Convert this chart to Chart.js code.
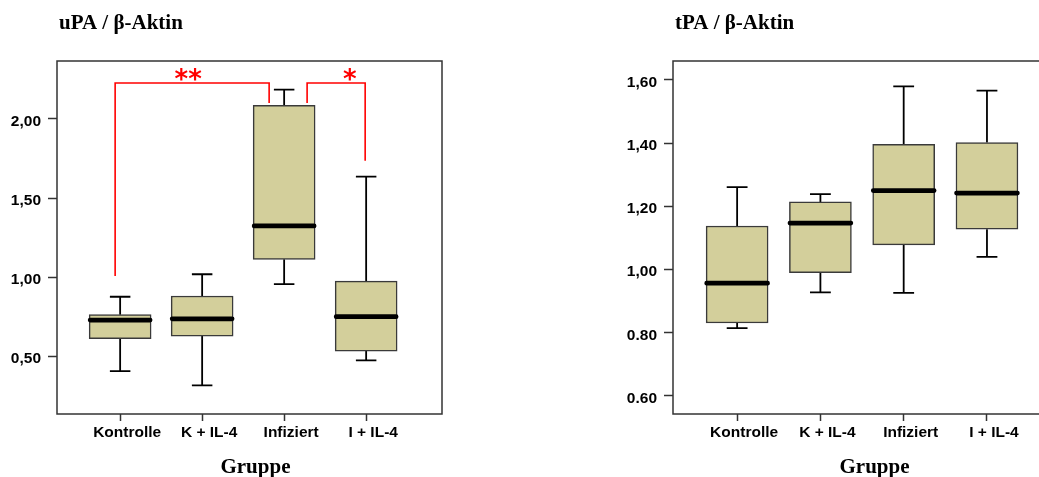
<!DOCTYPE html>
<html><head><meta charset="utf-8">
<script src="https://cdn.jsdelivr.net/npm/chart.js@4/dist/chart.umd.min.js"></script>
<style>
html,body{margin:0;padding:0;background:#fff;overflow:hidden;width:1039px;height:477px;position:relative;}
#w1{position:absolute;left:0;top:0;width:520px;height:477px;}
#w2{position:absolute;left:520px;top:0;width:570px;height:477px;}
</style></head><body>
<div id="w1"><canvas id="c1"></canvas></div>
<div id="w2"><canvas id="c2"></canvas></div>
<script>
// ---------- data ----------
const categories = ['Kontrolle', 'K + IL-4', 'Infiziert', 'I + IL-4'];
const categoryPositions = [1, 2, 3, 4];
const xAxisTitle = 'Gruppe';

// uPA / β-Aktin
const upaTitle = 'uPA / β-Aktin';
const upaMin    = [0.409, 0.319, 0.958, 0.476];
const upaQ1     = [0.613, 0.630, 1.114, 0.535];
const upaMedian = [0.731, 0.739, 1.325, 0.752];
const upaQ3     = [0.765, 0.883, 2.086, 0.977];
const upaMax    = [0.878, 1.020, 2.185, 1.636];
const upaTickValues = [0.5, 1.0, 1.5, 2.0];
const upaTickLabels = ['0,50', '1,00', '1,50', '2,00'];

// significance brackets (uPA)
const sigLeftX   = [0.939, 3.280];
const sigRightX  = [2.817, 3.988];
const sigTopY    = [2.227, 2.227];
const sigLeftY   = [1.009, 2.101];
const sigRightY  = [2.101, 1.737];
const sigText    = ['**', '*'];
const sigTextX   = [1.83, 3.80];

// tPA / β-Aktin
const tpaTitle = 'tPA / β-Aktin';
const tpaMin    = [0.815, 0.928, 0.926, 1.040];
const tpaQ1     = [0.831, 0.990, 1.078, 1.128];
const tpaMedian = [0.957, 1.147, 1.250, 1.242];
const tpaQ3     = [1.138, 1.214, 1.396, 1.402];
const tpaMax    = [1.261, 1.239, 1.580, 1.566];
const tpaTickValues = [0.6, 0.8, 1.0, 1.2, 1.4, 1.6];
const tpaTickLabels = ['0.60', '0.80', '1,00', '1,20', '1,40', '1,60'];

// ---------- helpers ----------
const CAP_HALF = 0.125;   // whisker cap half-width (x units)
const MED_HALF = 0.365;   // median line half-width (x units)

function segments(list) {
  const out = [];
  list.forEach((s, i) => {
    if (i > 0) out.push({x: s[0][0], y: null});
    s.forEach(p => out.push({x: p[0], y: p[1]}));
  });
  return out;
}

function boxDatasets(mn, q1, med, q3, mx) {
  const xs = categoryPositions;
  return [
    {
      type: 'bar', order: 5, grouped: false,
      data: xs.map((x, i) => ({x: x, y: [q1[i], q3[i]]})),
      backgroundColor: '#d3cf9b', borderColor: '#3a3a3a', borderWidth: 1.5,
      borderSkipped: false, barThickness: 62
    },
    {
      type: 'line', order: 6,
      data: segments(xs.flatMap((x, i) => [[[x, mn[i]], [x, q1[i]]], [[x, q3[i]], [x, mx[i]]]])),
      borderColor: '#000', borderWidth: 1.8, pointRadius: 0, fill: false, spanGaps: false, tension: 0
    },
    {
      type: 'line', order: 6,
      data: segments(xs.flatMap((x, i) => [[[x - CAP_HALF, mn[i]], [x + CAP_HALF, mn[i]]], [[x - CAP_HALF, mx[i]], [x + CAP_HALF, mx[i]]]])),
      borderColor: '#000', borderWidth: 1.8, pointRadius: 0, fill: false, spanGaps: false, tension: 0
    },
    {
      type: 'line', order: 1,
      data: segments(xs.map((x, i) => [[x - MED_HALF, med[i]], [x + MED_HALF, med[i]]])),
      borderColor: '#000', borderWidth: 4.8, borderCapStyle: 'round', pointRadius: 0, fill: false, spanGaps: false, tension: 0
    }
  ];
}

const deco = {
  id: 'deco',
  afterDraw(chart, args, opts) {
    const {ctx, chartArea: a} = chart;
    const xs = chart.scales.x, ys = chart.scales.y;
    ctx.save();
    ctx.strokeStyle = '#333'; ctx.lineWidth = 1.5;
    ctx.strokeRect(a.left, a.top, a.right - a.left, a.bottom - a.top);
    ctx.fillStyle = '#000';
    ctx.font = 'bold 21px "Liberation Serif", "Times New Roman", serif';
    ctx.textAlign = 'left'; ctx.textBaseline = 'alphabetic';
    ctx.fillText(opts.title, a.left + 2, 29);
    ctx.textAlign = 'center';
    ctx.fillText(xAxisTitle, xs.getPixelForValue(2.65), 472.5);
    if (opts.sig) {
      ctx.fillStyle = '#ff0000';
      ctx.font = 'bold 26px "DejaVu Sans", sans-serif';
      ctx.textAlign = 'center'; ctx.textBaseline = 'alphabetic';
      sigText.forEach((t, i) => {
        ctx.fillText(t, xs.getPixelForValue(sigTextX[i]), ys.getPixelForValue(sigTopY[i]) + 5);
      });
    }
    ctx.restore();
  }
};

function makeChart(id, cfg) {
  const datasets = boxDatasets(cfg.mn, cfg.q1, cfg.med, cfg.q3, cfg.mx);
  if (cfg.sig) {
    datasets.push({
      type: 'line', order: 2,
      data: segments(sigLeftX.map((lx, i) => [[lx, sigLeftY[i]], [lx, sigTopY[i]], [sigRightX[i], sigTopY[i]], [sigRightX[i], sigRightY[i]]])),
      borderColor: '#ff0000', borderWidth: 1.6, pointRadius: 0, fill: false, spanGaps: false, tension: 0
    });
  }
  const tickFont = {family: '"Liberation Sans", Arial, sans-serif', size: 15.5, weight: 'bold'};
  return new Chart(document.getElementById(id), {
    type: 'bar',
    data: {datasets},
    options: {
      responsive: true, maintainAspectRatio: false, animation: false,
      layout: {padding: {top: cfg.top, right: cfg.right, left: 0, bottom: 0}},
      plugins: {legend: {display: false}, tooltip: {enabled: false}, deco: {title: cfg.title, sig: cfg.sig}},
      scales: {
        x: {
          type: 'linear', min: 0.23, max: 4.925, offset: false,
          afterFit(s) { s.height = 63; },
          afterBuildTicks(s) { s.ticks = categoryPositions.map(v => ({value: v})); },
          ticks: {callback: (v, i) => categories[i], font: tickFont, color: '#000', padding: 2, labelOffset: 7, autoSkip: false, maxRotation: 0},
          grid: {display: true, offset: false, drawOnChartArea: false, drawTicks: true, tickLength: 7, tickColor: '#333', tickWidth: 1.5},
          border: {display: false}
        },
        y: {
          type: 'linear', min: cfg.ymin, max: cfg.ymax, beginAtZero: false,
          afterFit(s) { s.width = cfg.yWidth; },
          afterBuildTicks(s) { s.ticks = cfg.tickValues.map(v => ({value: v})); },
          ticks: {callback: (v, i) => cfg.tickLabels[i], font: tickFont, color: '#000', padding: 7, labelOffset: 2.5},
          grid: {display: true, drawOnChartArea: false, drawTicks: true, tickLength: 9, tickColor: '#333', tickWidth: 1.5},
          border: {display: false}
        }
      }
    },
    plugins: [deco]
  });
}

makeChart('c1', {
  title: upaTitle, mn: upaMin, q1: upaQ1, med: upaMedian, q3: upaQ3, mx: upaMax,
  tickValues: upaTickValues, tickLabels: upaTickLabels, ymin: 0.138, ymax: 2.366,
  top: 61, right: 78, yWidth: 57, sig: true
});
makeChart('c2', {
  title: tpaTitle, mn: tpaMin, q1: tpaQ1, med: tpaMedian, q3: tpaQ3, mx: tpaMax,
  tickValues: tpaTickValues, tickLabels: tpaTickLabels, ymin: 0.543, ymax: 1.66,
  top: 61, right: 26, yWidth: 153, sig: false
});
</script>
</body></html>
